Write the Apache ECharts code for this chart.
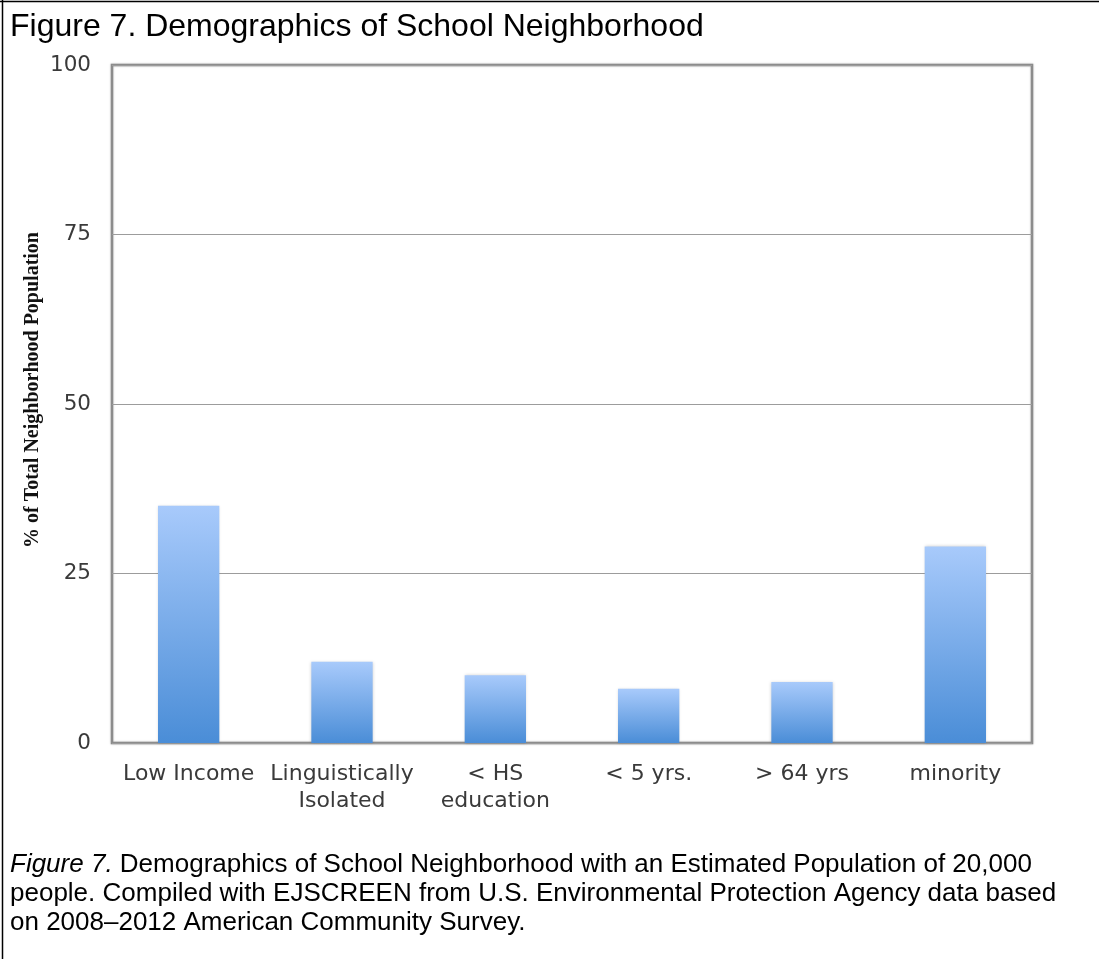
<!DOCTYPE html>
<html>
<head>
<meta charset="utf-8">
<title>Figure 7. Demographics of School Neighborhood</title>
<script src="https://cdn.jsdelivr.net/npm/echarts@6/dist/echarts.min.js"></script>
<style>
  html, body { margin: 0; padding: 0; background: #fff; }
  #chart { width: 1099px; height: 959px; }
</style>
</head>
<body>
<div id="chart"></div>
<script>
// Neighborhood demographic groups and their share of total population (%)
const categories = ['Low Income', 'Linguistically\nIsolated', '< HS\neducation', '< 5 yrs.', '> 64 yrs', 'minority'];
const percentages = [35, 12, 10, 8, 9, 29];
const yTicks = [0, 25, 50, 75, 100];

const titleText = 'Figure 7. Demographics of School Neighborhood';
const yAxisTitle = '% of Total Neighborhood Population';
const captionLines = [
  ['Figure 7.', ' Demographics of School Neighborhood with an Estimated Population of 20,000'],
  ['', 'people. Compiled with EJSCREEN from U.S. Environmental Protection Agency data based'],
  ['', 'on 2008\u20132012 American Community Survey.']
];

const chart = echarts.init(document.getElementById('chart'), null, { renderer: 'canvas' });

const captionGraphics = captionLines.map(function (parts, i) {
  const txt = (parts[0] ? '{it|' + parts[0] + '}' : '') + '{rg|' + parts[1] + '}';
  return {
    type: 'text',
    left: 10,
    top: 852 + i * 29,
    style: {
      text: txt,
      rich: {
        it: { fontFamily: 'Liberation Sans, Arial, sans-serif', fontSize: 26, fontStyle: 'italic', fill: '#000' },
        rg: { fontFamily: 'Liberation Sans, Arial, sans-serif', fontSize: 26, fill: '#000' }
      }
    }
  };
});

const option = {
  backgroundColor: '#fff',
  animation: false,
  grid: {
    left: 112, top: 65, right: 67, bottom: 216,
    show: true,
    borderColor: '#8c8c8c',
    borderWidth: 2.5,
    shadowColor: 'rgba(0,0,0,0.25)',
    shadowBlur: 2
  },
  xAxis: {
    type: 'category',
    data: categories,
    axisLine: { show: false },
    axisTick: { show: false },
    axisLabel: {
      interval: 0,
      margin: 18,
      fontFamily: 'DejaVu Sans, Verdana, sans-serif',
      fontSize: 22,
      lineHeight: 27,
      color: '#3a3a3a',
      align: 'center'
    }
  },
  yAxis: {
    type: 'value',
    min: yTicks[0],
    max: yTicks[yTicks.length - 1],
    interval: 25,
    axisLine: { show: false },
    axisTick: { show: false },
    splitLine: { show: true, lineStyle: { color: '#9c9c9c', width: 1.2 } },
    axisLabel: {
      margin: 21,
      fontFamily: 'DejaVu Sans, Verdana, sans-serif',
      fontSize: 21.5,
      color: '#3a3a3a'
    }
  },
  series: [{
    type: 'bar',
    data: percentages,
    barWidth: '40%',
    itemStyle: {
      color: new echarts.graphic.LinearGradient(0, 0, 0, 1, [
        { offset: 0, color: '#a8cafb' },
        { offset: 1, color: '#4a8dd7' }
      ]),
      shadowColor: 'rgba(0,0,0,0.18)',
      shadowBlur: 3
    }
  }],
  graphic: [
    // frame around the whole figure (top and left edges)
    { type: 'line', shape: { x1: 0, y1: 1.5, x2: 1099, y2: 1.5 }, style: { stroke: '#000', lineWidth: 1.5 } },
    { type: 'line', shape: { x1: 2.5, y1: 0, x2: 2.5, y2: 959 }, style: { stroke: '#000', lineWidth: 1.5 } },
    {
      type: 'text',
      left: 10,
      top: 11,
      style: {
        text: titleText,
        fontFamily: 'Liberation Sans, Arial, sans-serif',
        fontSize: 32,
        fill: '#000'
      }
    },
    {
      type: 'text',
      x: 33,
      y: 390,
      rotation: Math.PI / 2,
      style: {
        text: yAxisTitle,
        fontFamily: 'Liberation Serif, Times New Roman, serif',
        fontWeight: 'bold',
        fontSize: 20,
        fill: '#111',
        align: 'center',
        verticalAlign: 'middle'
      }
    }
  ].concat(captionGraphics)
};

chart.setOption(option);
</script>
</body>
</html>
